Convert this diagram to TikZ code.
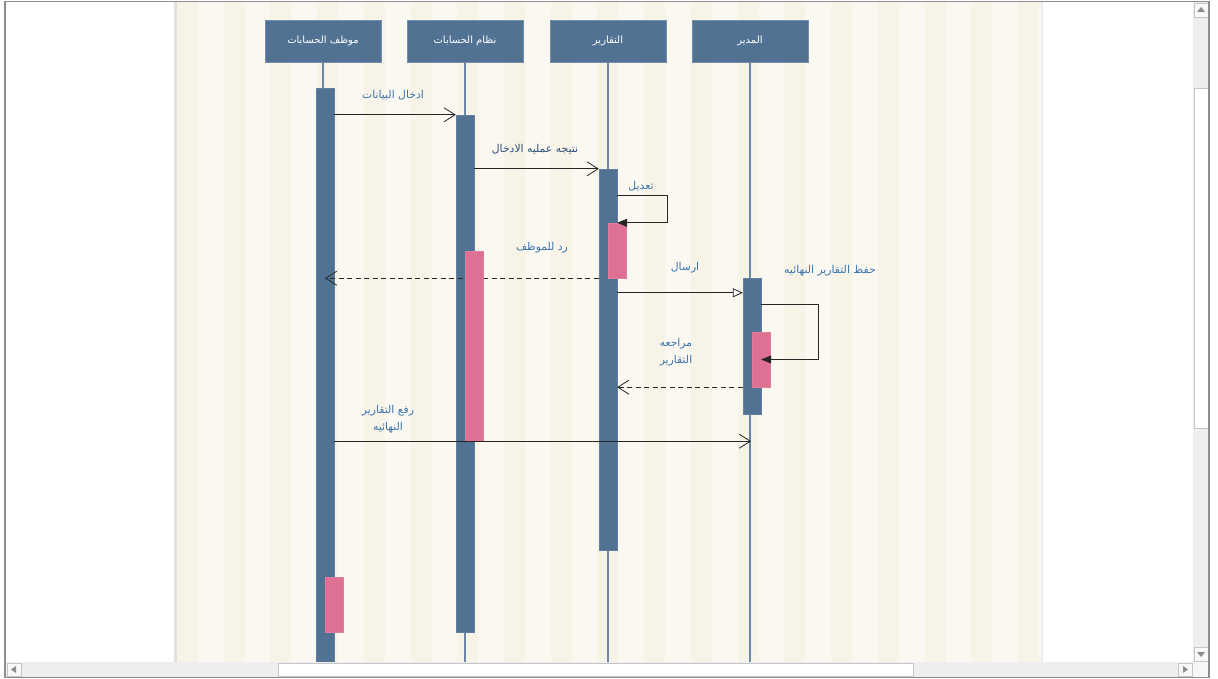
\documentclass[tikz,border=0pt]{standalone}
\usepackage{fontspec}
\newfontfamily\arabicfont[Script=Arabic]{DejaVu Sans}
\TeXXeTstate=1
\usetikzlibrary{positioning, arrows.meta, calc}

\definecolor{lifeblue}{HTML}{527294}
\definecolor{hotpink}{HTML}{DE7094}
\definecolor{lbltext}{HTML}{3D74AE}
\definecolor{stripedark}{HTML}{F7F3E6}
\definecolor{stripelight}{HTML}{FBF8F1}
\definecolor{barback}{HTML}{EEEEEE}
\definecolor{barline}{HTML}{C6C6C6}
\definecolor{framegray}{HTML}{8E8E8E}

\newcommand{\ar}[1]{{\arabicfont\beginR #1\endR}}

\begin{document}
\begin{tikzpicture}[
  x=1pt, y=-1pt,
  head/.style={draw=lifeblue!80!white, fill=lifeblue, text=white, minimum width=116pt,
    minimum height=42pt, inner sep=0pt, font=\fontsize{10}{12}\selectfont},
  act/.style={fill=lifeblue, draw=lifeblue!90!white, minimum width=18pt, inner sep=0pt},
  hot/.style={fill=hotpink, draw=hotpink!90!white, minimum width=18pt, inner sep=0pt},
  life/.style={draw=lifeblue!85!white, line width=1.1pt},
  msg/.style={draw=black!85, line width=0.8pt},
  reply/.style={msg, dash pattern=on 5pt off 3.5pt},
  tipopen/.style={-{Straight Barb[length=11pt, width=14pt]}},
  tipfill/.style={-{Triangle[length=10pt, width=8pt]}},
  tiphollow/.style={-{Triangle[length=10pt, width=9pt, fill=white]}},
  lbl/.style={text=lbltext, align=center, inner sep=1pt, font=\fontsize{10.8}{17}\selectfont},
  btn/.style={fill=white!60!barback, draw=barline, line width=0.6pt},
]
\useasboundingbox (0,0) rectangle (1218,679);
\fill[white] (0,0) rectangle (1218,679);

% --- striped background panel
\fill[black!12] (174,2) rectangle (177,662);
\fill[black!8] (1041,2) rectangle (1043,662);
\begin{scope}
  \clip (177,2) rectangle (1041,662);
  \fill[stripelight] (177,2) rectangle (1041,662);
  \foreach \i in {0,...,18}
    \fill[stripedark] ({177+46.72*\i},2) rectangle ++(21,660);
\end{scope}

% --- lifeline heads
\node[head] (emp) at (323,41) {\ar{موظف الحسابات}};
\node[head] (sys) at (465,41) {\ar{نظام الحسابات}};
\node[head] (rep) at (608,41) {\ar{التقارير}};
\node[head] (mgr) at (750,41) {\ar{المدير}};

% --- lifelines
\foreach \h in {emp, sys, rep, mgr}
  \draw[life] (\h.south) -- (\h.south |- 0,662);

% --- activations
\node[act, minimum height=574pt] (a1) at (325,375) {};
\node[act, minimum height=517pt] (a2) at (465,373.5) {};
\node[act, minimum height=381pt] (a3) at (608,359.5) {};
\node[act, minimum height=136pt] (a4) at (752,346) {};

% --- messages, in order
\draw[msg, tipopen] (a1.east |- a2.north) -- (a2.north west);
\node[lbl] (l1) at (393,95) {\ar{ادخال البيانات}};

\draw[msg, tipopen] (a2.east |- a3.north) -- (a3.north west);
\node[lbl, text=lbltext!70!black] (l2) at (535,149) {\ar{نتيجه عمليه الادخال}};

\node[hot, minimum height=55pt] (h3) at (617,250.5) {};
\draw[msg, tipfill] ($(a3.north east)+(0,27)$) -- ++(50,0) |- (a3.east |- h3.north);
\node[lbl] (l3) at (641,186) {\ar{تعديل}};

\draw[reply, tipopen] (a3.west |- h3.south) -- (a1.center |- h3.south);
\node[lbl] (l4) at (542,248) {\ar{رد للموظف}};

\node[hot, minimum height=190pt] (h2) at (474,346) {};

\coordinate (t5) at ($(a4.north west)+(0,15)$);
\draw[msg, tiphollow] (a3.east |- t5) -- (t5);
\node[lbl] (l5) at (685,268) {\ar{ارسال}};

\node[hot, minimum height=55pt] (h4) at (761,359.5) {};
\draw[msg, tipfill] ($(a4.north east)+(0,27)$) -- ++(57,0) |- (a4.east |- h4.center);
\node[lbl] (l6) at (830,271) {\ar{حفظ التقارير النهائيه}};

\draw[reply, tipopen] (a4.west |- h4.south) -- (a3.east |- h4.south);
\node[lbl] (l7) at (676,352) {\ar{مراجعه}\\\ar{التقارير}};

\coordinate (mgrl) at ($(mgr.south)+(1,0)$);
\draw[msg, tipopen] (a1.east |- h2.south) -- (mgrl |- h2.south);
\node[lbl] (l8) at (388,419) {\ar{رفع التقارير}\\\ar{النهائيه}};

\node[hot, minimum height=55pt] (h1) at (334,604.5) {};

% --- window scroll bars and frame
\fill[barback] (1193,2) rectangle (1209,662);
\draw[btn] (1194,3) rectangle (1208,17);
\fill[black!45] (1197,12) -- (1205,12) -- (1201,7) -- cycle;
\draw[btn, fill=white] (1194,88) rectangle (1208,428);
\draw[btn] (1194,647) rectangle (1208,661);
\fill[black!45] (1197,652) -- (1205,652) -- (1201,657) -- cycle;

\fill[barback] (6,662) rectangle (1193,677);
\draw[btn] (7,663) rectangle (21,676);
\fill[black!45] (16,666) -- (16,673) -- (11,669.5) -- cycle;
\draw[btn, fill=white] (278,663) rectangle (913,676);
\draw[btn] (1178,663) rectangle (1192,676);
\fill[black!45] (1183,666) -- (1183,673) -- (1188,669.5) -- cycle;
\fill[white!50!barback] (1193,662) rectangle (1209,677);

\draw[framegray, line width=1.5pt] (5,1.5) rectangle (1209,677.5);
\end{tikzpicture}
\end{document}
